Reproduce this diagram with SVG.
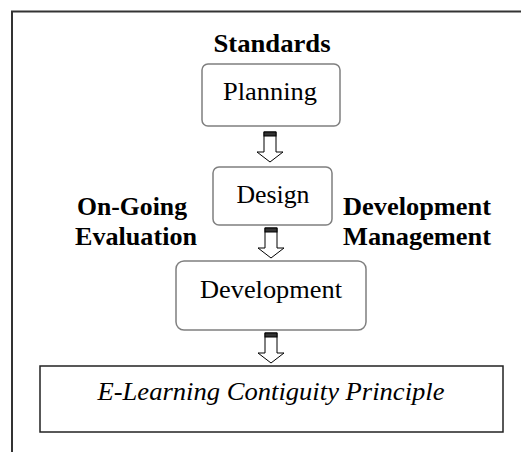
<svg xmlns="http://www.w3.org/2000/svg" width="521" height="452" viewBox="0 0 521 452">
  <style>
    .frame { fill: none; stroke: #333; stroke-width: 2; }
    .step { fill: #fff; stroke: #7f7f7f; stroke-width: 1.5; }
    .goal { fill: #fff; stroke: #222; stroke-width: 1.5; }
    .lbl { font-family: "Times New Roman", "Liberation Serif", Tinos, "Nimbus Roman", FreeSerif, Times, serif; fill: #000; }
    .node { font-size: 26px; text-anchor: middle; }
    .side { font-size: 26px; font-weight: bold; }
    .arrow { fill: #fff; stroke: #000; stroke-width: 1; }
    .cap { fill: #333; stroke: #000; stroke-width: 1; }
  </style>
  <defs>
    <!-- hollow block arrow, tip at (0,30) -->
    <g id="blockArrow">
      <path class="arrow" d="M-6,0 H6 V20 H13 L0,30 L-13,20 H-6 Z"/>
      <rect class="cap" x="-6" y="0" width="12" height="4"/>
    </g>
  </defs>
  <rect width="521" height="452" fill="#fff"/>

  <!-- outer frame (top and left edges) -->
  <path class="frame" d="M12,452 V11.5 H521"/>

  <g id="standards">
    <text class="lbl side" x="272" y="52" text-anchor="middle" textLength="117" lengthAdjust="spacingAndGlyphs">Standards</text>
  </g>

  <g id="planning">
    <rect class="step" x="202" y="64" width="138" height="62" rx="6"/>
    <text class="lbl node" x="270" y="100" textLength="94" lengthAdjust="spacingAndGlyphs">Planning</text>
  </g>

  <g id="design">
    <rect class="step" x="213" y="167" width="119" height="58" rx="6"/>
    <text class="lbl node" x="273" y="203" textLength="73" lengthAdjust="spacingAndGlyphs">Design</text>
  </g>

  <g id="ongoing-evaluation">
    <text class="lbl side" x="132" y="215" text-anchor="middle" textLength="110" lengthAdjust="spacingAndGlyphs">On-Going</text>
    <text class="lbl side" x="136" y="245" text-anchor="middle" textLength="122" lengthAdjust="spacingAndGlyphs">Evaluation</text>
  </g>

  <g id="development-management">
    <text class="lbl side" x="343" y="215" textLength="148" lengthAdjust="spacingAndGlyphs">Development</text>
    <text class="lbl side" x="343" y="245" textLength="148" lengthAdjust="spacingAndGlyphs">Management</text>
  </g>

  <g id="development">
    <rect class="step" x="176" y="261" width="190" height="69" rx="8"/>
    <text class="lbl node" x="271" y="298" textLength="142" lengthAdjust="spacingAndGlyphs">Development</text>
  </g>

  <g id="contiguity-principle">
    <rect class="goal" x="40" y="366" width="463" height="66"/>
    <text class="lbl node" x="271" y="400" font-style="italic" textLength="347" lengthAdjust="spacingAndGlyphs">E-Learning Contiguity Principle</text>
  </g>

  <g id="connectors">
    <use href="#blockArrow" x="270" y="132"/>
    <use href="#blockArrow" x="271" y="228"/>
    <use href="#blockArrow" x="271" y="333"/>
  </g>
</svg>
